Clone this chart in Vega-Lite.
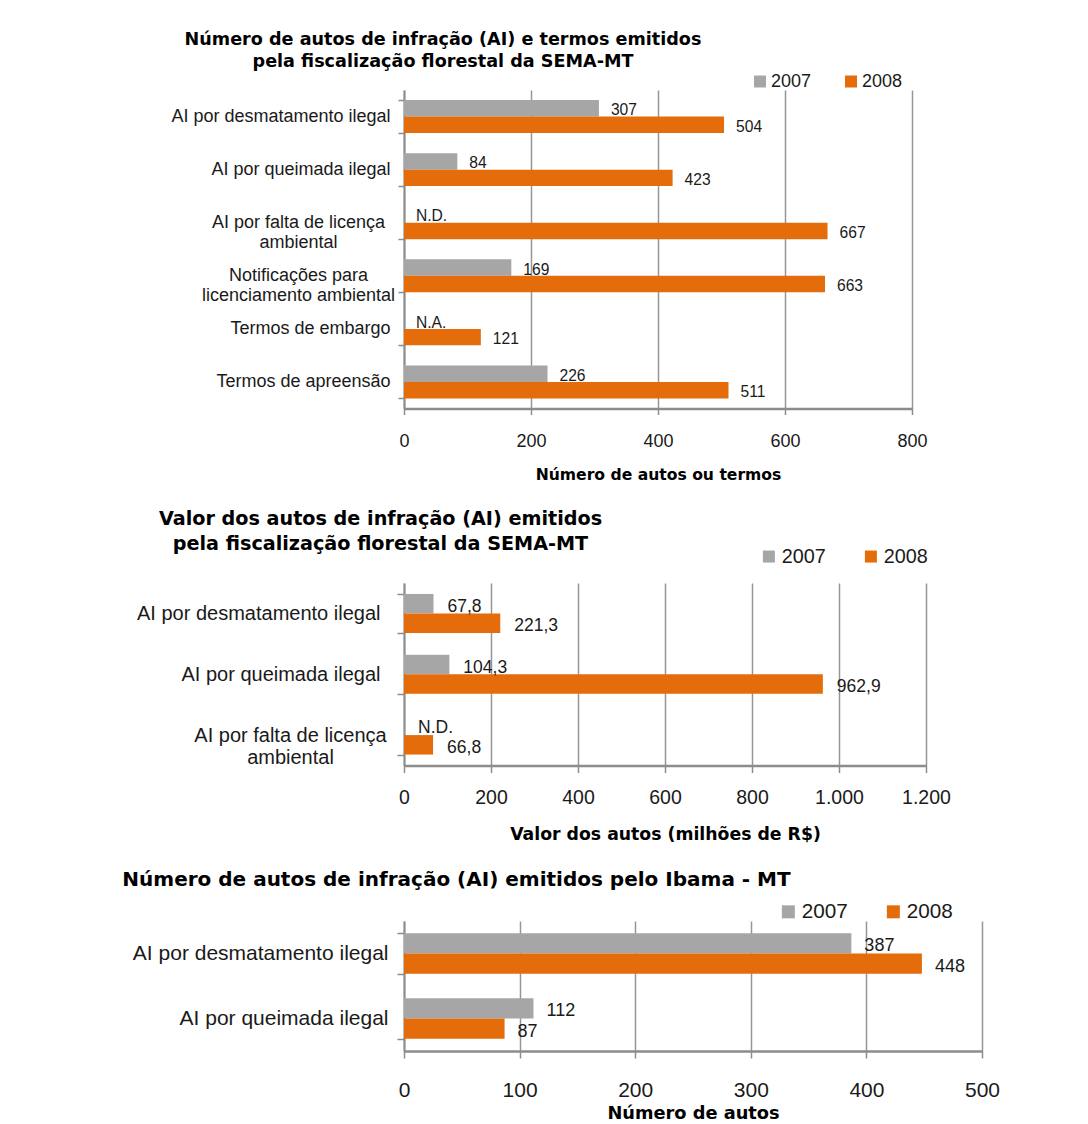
{
  "$schema": "https://vega.github.io/schema/vega-lite/v6.json",
  "background": "white",
  "padding": {"left": 122, "top": 30, "right": 10, "bottom": 0},
  "spacing": 26,
  "resolve": {"scale": {"x": "independent", "y": "independent", "yOffset": "independent", "color": "independent"}, "legend": {"color": "independent"}, "axis": {"x": "independent", "y": "independent"}},
  "config": {
    "font": "Liberation Sans",
    "view": {"stroke": null},
    "axis": {"labelColor": "#1a1a1a", "titleColor": "#000000", "domainColor": "#8c8c8c", "tickColor": "#8c8c8c", "gridColor": "#969696", "labelFont": "Liberation Sans", "titleFont": "DejaVu Sans"},
    "title": {"font": "DejaVu Sans", "fontWeight": "bold", "color": "#000000"},
    "legend": {"labelFont": "Liberation Sans", "labelColor": "#1a1a1a"}
  },
  "datasets": {
    "sema_numero": [
      {"categoria": "AI por desmatamento ilegal", "ano": "2007", "valor": 307, "rotulo": "307"},
      {"categoria": "AI por desmatamento ilegal", "ano": "2008", "valor": 504, "rotulo": "504"},
      {"categoria": "AI por queimada ilegal", "ano": "2007", "valor": 84, "rotulo": "84"},
      {"categoria": "AI por queimada ilegal", "ano": "2008", "valor": 423, "rotulo": "423"},
      {"categoria": "AI por falta de licença\nambiental", "ano": "2007", "valor": 0, "rotulo": "N.D."},
      {"categoria": "AI por falta de licença\nambiental", "ano": "2008", "valor": 667, "rotulo": "667"},
      {"categoria": "Notificações para\nlicenciamento ambiental", "ano": "2007", "valor": 169, "rotulo": "169"},
      {"categoria": "Notificações para\nlicenciamento ambiental", "ano": "2008", "valor": 663, "rotulo": "663"},
      {"categoria": "Termos de embargo", "ano": "2007", "valor": 0, "rotulo": "N.A."},
      {"categoria": "Termos de embargo", "ano": "2008", "valor": 121, "rotulo": "121"},
      {"categoria": "Termos de apreensão", "ano": "2007", "valor": 226, "rotulo": "226"},
      {"categoria": "Termos de apreensão", "ano": "2008", "valor": 511, "rotulo": "511"}
    ],
    "sema_valor": [
      {"categoria": "AI por desmatamento ilegal", "ano": "2007", "valor": 67.8, "rotulo": "67,8"},
      {"categoria": "AI por desmatamento ilegal", "ano": "2008", "valor": 221.3, "rotulo": "221,3"},
      {"categoria": "AI por queimada ilegal", "ano": "2007", "valor": 104.3, "rotulo": "104,3"},
      {"categoria": "AI por queimada ilegal", "ano": "2008", "valor": 962.9, "rotulo": "962,9"},
      {"categoria": "AI por falta de licença\nambiental", "ano": "2007", "valor": 0, "rotulo": "N.D."},
      {"categoria": "AI por falta de licença\nambiental", "ano": "2008", "valor": 66.8, "rotulo": "66,8"}
    ],
    "ibama_numero": [
      {"categoria": "AI por desmatamento ilegal", "ano": "2007", "valor": 387, "rotulo": "387"},
      {"categoria": "AI por desmatamento ilegal", "ano": "2008", "valor": 448, "rotulo": "448"},
      {"categoria": "AI por queimada ilegal", "ano": "2007", "valor": 112, "rotulo": "112"},
      {"categoria": "AI por queimada ilegal", "ano": "2008", "valor": 87, "rotulo": "87"}
    ]
  },
  "vconcat": [
    {
      "data": {"name": "sema_numero"},
      "width": 508,
      "height": 318.5,
      "title": {"text": ["Número de autos de infração (AI) e termos emitidos", "pela fiscalização florestal da SEMA-MT"], "fontSize": 17.6, "lineHeight": 22.7, "anchor": "middle", "frame": "group", "dx": -215, "offset": 1.5},
      "encoding": {
        "y": {"field": "categoria", "type": "nominal", "sort": null, "scale": {"paddingInner": 0.38, "paddingOuter": 0.19},
          "axis": {"title": null, "grid": false, "domainWidth": 2, "tickBand": "extent", "tickSize": 6, "tickWidth": 1.5, "labelFontSize": 18, "labelLimit": 500, "labelLineHeight": 20,
            "labelExpr": "isString(datum.label) ? split(datum.label, '\\n') : datum.label",
            "labelAlign": {"condition": {"test": "isString(datum.value) && indexof(datum.value, '\\n') >= 0", "value": "center"}, "value": "right"},
            "labelPadding": {"condition": {"test": "isString(datum.value) && indexof(datum.value, '\\n') >= 0", "value": 100}, "value": 8}}},
        "yOffset": {"field": "ano", "type": "nominal"},
        "x": {"field": "valor", "type": "quantitative", "scale": {"domain": [0, 800], "nice": false},
          "axis": {"title": "Número de autos ou termos", "titleFontSize": 15.6, "titleFontWeight": "bold", "titlePadding": 17, "values": [0, 200, 400, 600, 800], "format": "d", "grid": true, "gridWidth": 1.5, "domainWidth": 2.5, "tickSize": 6, "tickWidth": 1.5, "labelFontSize": 18, "labelPadding": 18, "labelFlush": false}}
      },
      "layer": [
        {"mark": {"type": "bar"},
         "encoding": {"color": {"field": "ano", "type": "nominal", "scale": {"domain": ["2007", "2008"], "range": ["#A6A6A6", "#E46C0A"]},
           "legend": {"orient": "none", "legendX": 347, "legendY": -17.5, "direction": "horizontal", "title": null, "symbolType": "square", "symbolSize": 144, "symbolStrokeWidth": 0, "labelFontSize": 18, "labelOffset": 2, "columnPadding": 30, "padding": 0}}}},
        {"mark": {"type": "text", "align": "left", "baseline": "middle", "dx": 12, "dy": 2, "fontSize": 15.6, "color": "#1a1a1a"},
         "encoding": {"text": {"field": "rotulo", "type": "nominal"}}}
      ]
    },
    {
      "data": {"name": "sema_valor"},
      "width": 522,
      "height": 182.5,
      "title": {"text": ["Valor dos autos de infração (AI) emitidos", "pela fiscalização florestal da SEMA-MT"], "fontSize": 19.2, "lineHeight": 25, "anchor": "middle", "frame": "group", "dx": -284.5, "offset": -7.8},
      "encoding": {
        "y": {"field": "categoria", "type": "nominal", "sort": null, "scale": {"paddingInner": 0.36, "paddingOuter": 0.18},
          "axis": {"title": null, "grid": false, "domainWidth": 2, "tickBand": "extent", "tickSize": 7, "tickWidth": 1.5, "labelFontSize": 20, "labelLimit": 500, "labelLineHeight": 22,
            "labelExpr": "isString(datum.label) ? split(datum.label, '\\n') : datum.label",
            "labelAlign": {"condition": {"test": "isString(datum.value) && indexof(datum.value, '\\n') >= 0", "value": "center"}, "value": "right"},
            "labelPadding": {"condition": {"test": "isString(datum.value) && indexof(datum.value, '\\n') >= 0", "value": 107}, "value": 17}}},
        "yOffset": {"field": "ano", "type": "nominal"},
        "x": {"field": "valor", "type": "quantitative", "scale": {"domain": [0, 1200], "nice": false},
          "axis": {"title": "Valor dos autos (milhões de R$)", "titleFontSize": 17.3, "titleFontWeight": "bold", "titlePadding": 18, "values": [0, 200, 400, 600, 800, 1000, 1200], "labelExpr": "replace(format(datum.value, ','), ',', '.')", "grid": true, "gridWidth": 1.5, "domainWidth": 2.5, "tickSize": 7, "tickWidth": 1.5, "labelFontSize": 19.5, "labelPadding": 16, "labelFlush": false}}
      },
      "layer": [
        {"mark": {"type": "bar"},
         "encoding": {"color": {"field": "ano", "type": "nominal", "scale": {"domain": ["2007", "2008"], "range": ["#A6A6A6", "#E46C0A"]},
           "legend": {"orient": "none", "legendX": 355, "legendY": -36.5, "direction": "horizontal", "title": null, "symbolType": "square", "symbolSize": 144, "symbolStrokeWidth": 0, "labelFontSize": 19.8, "labelOffset": 3, "columnPadding": 35, "padding": 0}}}},
        {"mark": {"type": "text", "align": "left", "baseline": "middle", "dx": 14, "dy": 3, "fontSize": 17.5, "color": "#1a1a1a"},
         "encoding": {"text": {"field": "rotulo", "type": "nominal"}}}
      ]
    },
    {
      "data": {"name": "ibama_numero"},
      "width": 578,
      "height": 130,
      "title": {"text": "Número de autos de infração (AI) emitidos pelo Ibama - MT", "fontSize": 20, "anchor": "middle", "frame": "group", "dx": -236.5, "offset": 11.3},
      "encoding": {
        "y": {"field": "categoria", "type": "nominal", "sort": null, "scale": {"paddingInner": 0.38, "paddingOuter": 0.19},
          "axis": {"title": null, "grid": false, "domainWidth": 2, "tickBand": "extent", "tickSize": 7, "tickWidth": 1.5, "labelFontSize": 21, "labelLimit": 500, "labelPadding": 9}},
        "yOffset": {"field": "ano", "type": "nominal"},
        "x": {"field": "valor", "type": "quantitative", "scale": {"domain": [0, 500], "nice": false},
          "axis": {"title": "Número de autos", "titleFontSize": 17.8, "titleFontWeight": "bold", "titlePadding": 4, "values": [0, 100, 200, 300, 400, 500], "format": "d", "grid": true, "gridWidth": 1.5, "domainWidth": 2.5, "tickSize": 7, "tickWidth": 1.5, "labelFontSize": 21, "labelPadding": 21, "labelFlush": false}}
      },
      "layer": [
        {"mark": {"type": "bar"},
         "encoding": {"color": {"field": "ano", "type": "nominal", "scale": {"domain": ["2007", "2008"], "range": ["#A6A6A6", "#E46C0A"]},
           "legend": {"orient": "none", "legendX": 374, "legendY": -20, "direction": "horizontal", "title": null, "symbolType": "square", "symbolSize": 169, "symbolStrokeWidth": 0, "labelFontSize": 20.7, "labelOffset": 3, "columnPadding": 35, "padding": 0}}}},
        {"mark": {"type": "text", "align": "left", "baseline": "middle", "dx": 13, "dy": 3, "fontSize": 18, "color": "#1a1a1a"},
         "encoding": {"text": {"field": "rotulo", "type": "nominal"}}}
      ]
    }
  ]
}
